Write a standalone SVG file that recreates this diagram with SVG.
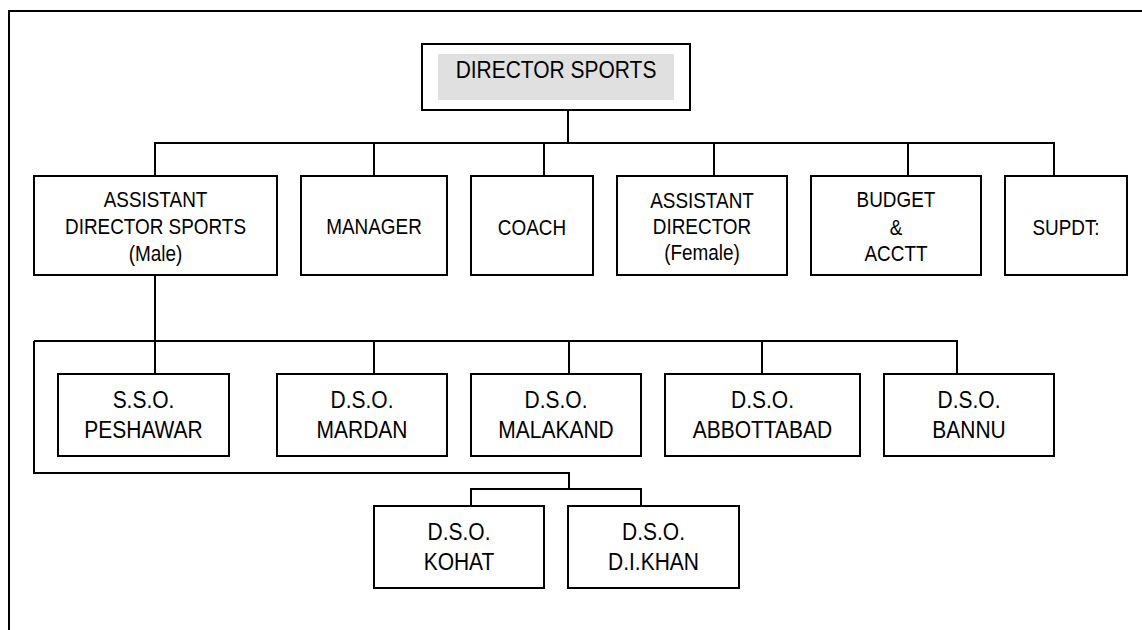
<svg xmlns="http://www.w3.org/2000/svg" width="1142" height="630" viewBox="0 0 1142 630">
<style>
.box{fill:#fff;stroke:#000;stroke-width:2}
.ln{fill:none;stroke:#000;stroke-width:2}
text{font-family:"Liberation Sans",Arial,sans-serif;text-anchor:middle;fill:#000}
.t1{font-size:22px}
.t2{font-size:23.3px}
</style>
<rect width="1142" height="630" fill="#fff"/>
<path class="ln" d="M9,640 V11 H1150"/>
<g id="connectors">
<path class="ln" d="M568,110 V143"/>
<path class="ln" d="M155,176 V143 H1054 V176"/>
<path class="ln" d="M374,143 V176 M544,143 V176 M714,143 V176 M908,143 V176"/>
<path class="ln" d="M155,275 V374"/>
<path class="ln" d="M34,341 H957 V374"/>
<path class="ln" d="M374,341 V374 M569,341 V374 M762,341 V374"/>
<path class="ln" d="M34,341 V473 H569 V489"/>
<path class="ln" d="M471,506 V489 H641 V506"/>
</g>
<g id="director">
<rect class="box" x="422" y="44" width="268" height="66"/>
<rect x="438" y="54" width="236" height="46" fill="#e0e0e0"/>
<text class="t2" transform="translate(556,78) scale(0.9,1)">DIRECTOR SPORTS</text>
</g>
<g id="asst-director-male">
<rect class="box" x="34" y="176" width="243" height="99"/>
<text class="t1" transform="translate(155.5,207) scale(0.86,1)">ASSISTANT</text>
<text class="t1" transform="translate(155.5,234) scale(0.86,1)">DIRECTOR SPORTS</text>
<text class="t1" transform="translate(155.5,261) scale(0.86,1)">(Male)</text>
</g>
<g id="manager">
<rect class="box" x="301" y="176" width="146" height="99"/>
<text class="t1" transform="translate(374,234) scale(0.86,1)">MANAGER</text>
</g>
<g id="coach">
<rect class="box" x="471" y="176" width="122" height="99"/>
<text class="t1" transform="translate(532,235) scale(0.86,1)">COACH</text>
</g>
<g id="asst-director-female">
<rect class="box" x="617" y="176" width="170" height="99"/>
<text class="t1" transform="translate(702,208) scale(0.86,1)">ASSISTANT</text>
<text class="t1" transform="translate(702,234) scale(0.86,1)">DIRECTOR</text>
<text class="t1" transform="translate(702,260) scale(0.86,1)">(Female)</text>
</g>
<g id="budget">
<rect class="box" x="811" y="176" width="170" height="99"/>
<text class="t1" transform="translate(896,207) scale(0.86,1)">BUDGET</text>
<text class="t1" transform="translate(896,235) scale(0.86,1)">&amp;</text>
<text class="t1" transform="translate(896,261) scale(0.86,1)">ACCTT</text>
</g>
<g id="supdt">
<rect class="box" x="1005" y="176" width="122" height="99"/>
<text class="t1" transform="translate(1066,235) scale(0.86,1)">SUPDT:</text>
</g>
<g id="sso-peshawar">
<rect class="box" x="58" y="374" width="171" height="82"/>
<text class="t2" transform="translate(143.5,408) scale(0.9,1)">S.S.O.</text>
<text class="t2" transform="translate(143.5,438) scale(0.9,1)">PESHAWAR</text>
</g>
<g id="dso-mardan">
<rect class="box" x="277" y="374" width="170" height="82"/>
<text class="t2" transform="translate(362,408) scale(0.9,1)">D.S.O.</text>
<text class="t2" transform="translate(362,438) scale(0.9,1)">MARDAN</text>
</g>
<g id="dso-malakand">
<rect class="box" x="471" y="374" width="170" height="82"/>
<text class="t2" transform="translate(556,408) scale(0.9,1)">D.S.O.</text>
<text class="t2" transform="translate(556,438) scale(0.9,1)">MALAKAND</text>
</g>
<g id="dso-abbottabad">
<rect class="box" x="665" y="374" width="195" height="82"/>
<text class="t2" transform="translate(762.5,408) scale(0.9,1)">D.S.O.</text>
<text class="t2" transform="translate(762.5,438) scale(0.9,1)">ABBOTTABAD</text>
</g>
<g id="dso-bannu">
<rect class="box" x="884" y="374" width="170" height="82"/>
<text class="t2" transform="translate(969,408) scale(0.9,1)">D.S.O.</text>
<text class="t2" transform="translate(969,438) scale(0.9,1)">BANNU</text>
</g>
<g id="dso-kohat">
<rect class="box" x="374" y="506" width="170" height="82"/>
<text class="t2" transform="translate(459,540) scale(0.9,1)">D.S.O.</text>
<text class="t2" transform="translate(459,570) scale(0.9,1)">KOHAT</text>
</g>
<g id="dso-dikhan">
<rect class="box" x="568" y="506" width="171" height="82"/>
<text class="t2" transform="translate(653.5,540) scale(0.9,1)">D.S.O.</text>
<text class="t2" transform="translate(653.5,570) scale(0.9,1)">D.I.KHAN</text>
</g>
</svg>
